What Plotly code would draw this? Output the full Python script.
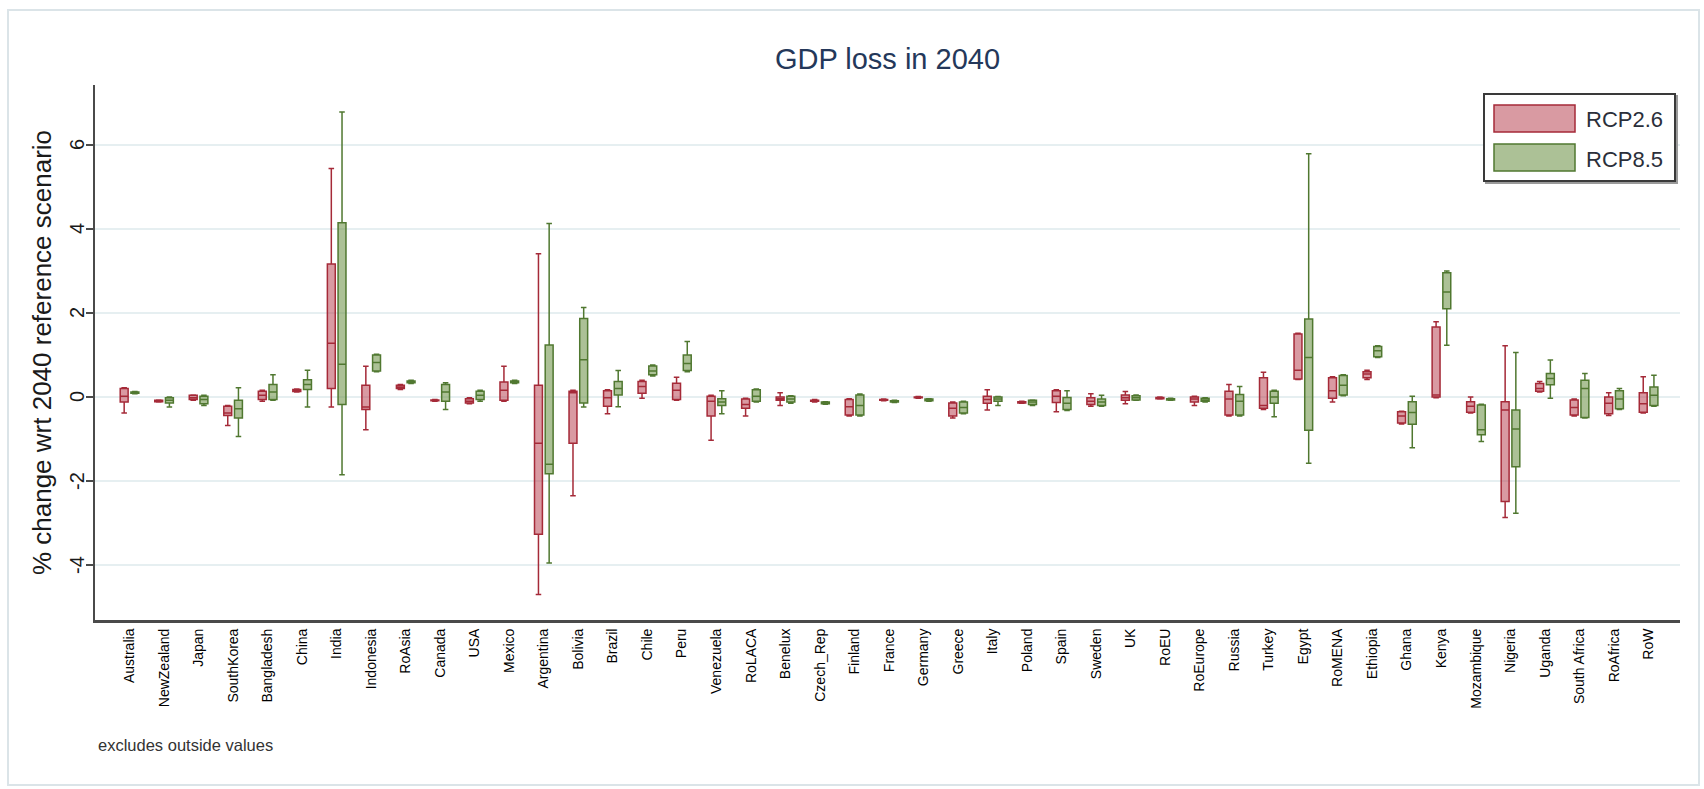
import plotly.graph_objects as go

# Regions on the x axis
countries = ["Australia", "NewZealand", "Japan", "SouthKorea", "Bangladesh", "China", "India",
             "Indonesia", "RoAsia", "Canada", "USA", "Mexico", "Argentina", "Bolivia", "Brazil",
             "Chile", "Peru", "Venezuela", "RoLACA", "Benelux", "Czech_Rep", "Finland", "France",
             "Germany", "Greece", "Italy", "Poland", "Spain", "Sweden", "UK", "RoEU", "RoEurope",
             "Russia", "Turkey", "Egypt", "RoMENA", "Ethiopia", "Ghana", "Kenya", "Mozambique",
             "Nigeria", "Uganda", "South Africa", "RoAfrica", "RoW"]

# RCP2.6 box statistics (% change wrt 2040 reference scenario)
rcp26_lower = [-0.38, -0.12, -0.08, -0.68, -0.10, 0.12, -0.24, -0.78, 0.18, -0.10, -0.16, -0.10,
               -4.70, -2.35, -0.40, -0.03, -0.08, -1.03, -0.45, -0.20, -0.12, -0.45, -0.09, -0.03,
               -0.50, -0.31, -0.15, -0.35, -0.22, -0.16, -0.05, -0.20, -0.45, -0.30, 0.42, -0.12,
               0.42, -0.64, -0.02, -0.38, -2.87, 0.12, -0.45, -0.44, -0.38]
rcp26_q1 = [-0.12, -0.11, -0.06, -0.44, -0.06, 0.13, 0.20, -0.30, 0.20, -0.09, -0.14, -0.08,
            -3.27, -1.10, -0.22, 0.09, -0.06, -0.45, -0.27, -0.08, -0.10, -0.43, -0.08, -0.02,
            -0.45, -0.15, -0.14, -0.13, -0.18, -0.08, -0.04, -0.12, -0.43, -0.27, 0.43, -0.03,
            0.46, -0.62, 0.00, -0.36, -2.49, 0.14, -0.43, -0.40, -0.36]
rcp26_median = [0.02, -0.10, -0.02, -0.38, 0.04, 0.15, 1.28, -0.24, 0.24, -0.08, -0.10, 0.16,
                -1.10, 0.10, -0.02, 0.25, 0.16, -0.10, -0.18, -0.04, -0.09, -0.23, -0.07, -0.01,
                -0.27, -0.06, -0.12, 0.02, -0.10, -0.02, -0.02, -0.05, -0.05, -0.20, 0.64, 0.15,
                0.55, -0.45, 0.05, -0.22, -0.31, 0.20, -0.25, -0.15, -0.16]
rcp26_q3 = [0.20, -0.08, 0.04, -0.22, 0.14, 0.18, 3.17, 0.28, 0.28, -0.07, -0.04, 0.36,
            0.28, 0.14, 0.15, 0.37, 0.33, 0.02, -0.05, 0.00, -0.08, -0.06, -0.06, 0.00,
            -0.14, 0.02, -0.11, 0.15, -0.02, 0.05, -0.01, 0.00, 0.14, 0.46, 1.50, 0.46,
            0.60, -0.35, 1.67, -0.11, -0.11, 0.32, -0.07, 0.00, 0.10]
rcp26_upper = [0.22, -0.07, 0.05, -0.20, 0.16, 0.19, 5.44, 0.73, 0.30, -0.06, -0.02, 0.73,
               3.41, 0.16, 0.17, 0.40, 0.47, 0.04, -0.03, 0.10, -0.06, -0.04, -0.05, 0.01,
               -0.12, 0.17, -0.10, 0.17, 0.08, 0.13, 0.00, 0.02, 0.30, 0.59, 1.52, 0.48,
               0.64, -0.34, 1.79, 0.00, 1.22, 0.37, -0.05, 0.10, 0.48]

# RCP8.5 box statistics
rcp85_lower = [0.08, -0.24, -0.20, -0.94, -0.08, -0.24, -1.85, 0.60, 0.32, -0.30, -0.10, 0.32,
               -3.95, -0.24, -0.23, 0.50, 0.60, -0.40, -0.12, -0.15, -0.17, -0.45, -0.13, -0.10,
               -0.40, -0.20, -0.20, -0.32, -0.22, -0.08, -0.08, -0.12, -0.45, -0.47, -1.58, 0.03,
               0.94, -1.21, 1.23, -1.06, -2.77, -0.03, -0.50, -0.30, -0.22]
rcp85_q1 = [0.09, -0.14, -0.16, -0.50, -0.06, 0.18, -0.18, 0.62, 0.34, -0.10, -0.06, 0.34,
            -1.83, -0.14, 0.05, 0.53, 0.63, -0.20, -0.10, -0.12, -0.16, -0.43, -0.12, -0.09,
            -0.38, -0.10, -0.18, -0.30, -0.20, -0.07, -0.07, -0.10, -0.43, -0.15, -0.79, 0.05,
            0.96, -0.65, 2.10, -0.90, -1.66, 0.29, -0.49, -0.28, -0.20]
rcp85_median = [0.10, -0.08, -0.06, -0.28, 0.12, 0.30, 0.78, 0.82, 0.36, 0.12, 0.04, 0.36,
                -1.60, 0.89, 0.20, 0.62, 0.80, -0.12, 0.02, -0.05, -0.14, -0.20, -0.10, -0.07,
                -0.25, -0.05, -0.12, -0.15, -0.12, -0.02, -0.05, -0.07, -0.10, 0.00, 0.94, 0.28,
                1.10, -0.37, 2.50, -0.78, -0.76, 0.44, 0.20, -0.05, 0.04]
rcp85_q3 = [0.12, -0.02, 0.02, -0.08, 0.30, 0.41, 4.15, 1.00, 0.38, 0.30, 0.14, 0.38,
            1.24, 1.87, 0.37, 0.74, 1.00, -0.04, 0.17, 0.02, -0.12, 0.05, -0.09, -0.05,
            -0.12, 0.00, -0.08, -0.01, -0.05, 0.03, -0.04, -0.03, 0.06, 0.14, 1.86, 0.51,
            1.20, -0.11, 2.96, -0.19, -0.31, 0.56, 0.40, 0.15, 0.24]
rcp85_upper = [0.13, 0.00, 0.04, 0.22, 0.53, 0.64, 6.79, 1.02, 0.40, 0.34, 0.16, 0.40,
               4.13, 2.13, 0.63, 0.76, 1.32, 0.15, 0.19, 0.03, -0.11, 0.07, -0.08, -0.04,
               -0.10, 0.01, -0.07, 0.15, 0.04, 0.05, -0.03, -0.02, 0.25, 0.16, 5.79, 0.53,
               1.22, 0.02, 3.00, -0.17, 1.06, 0.88, 0.56, 0.20, 0.52]

y_ticks = [-4, -2, 0, 2, 4, 6]

RED_LINE = "rgb(165,42,56)"
RED_FILL = "rgba(182,62,76,0.52)"
GREEN_LINE = "rgb(80,120,48)"
GREEN_FILL = "rgba(104,142,64,0.55)"

FONT = "Liberation Sans, Arial, sans-serif"

W, H = 1704, 789
PL, PR, PT, PB = 95, 1680, 85, 620   # plot area edges in pixels


def px(x):
    return (x - PL) / (PR - PL)


def py(y):
    return (PB - y) / (PB - PT)


fig = go.Figure()
fig.add_trace(go.Box(
    x=countries, q1=rcp26_q1, median=rcp26_median, q3=rcp26_q3,
    lowerfence=rcp26_lower, upperfence=rcp26_upper,
    name="RCP2.6", boxpoints=False, whiskerwidth=0.7,
    fillcolor=RED_FILL, line=dict(color=RED_LINE, width=1.5),
    marker=dict(color=RED_LINE), showlegend=False,
))
fig.add_trace(go.Box(
    x=countries, q1=rcp85_q1, median=rcp85_median, q3=rcp85_q3,
    lowerfence=rcp85_lower, upperfence=rcp85_upper,
    name="RCP8.5", boxpoints=False, whiskerwidth=0.7,
    fillcolor=GREEN_FILL, line=dict(color=GREEN_LINE, width=1.5),
    marker=dict(color=GREEN_LINE), showlegend=False,
))

shapes = [
    # outer graph frame
    dict(type="rect", xref="paper", yref="paper", layer="below",
         x0=px(8), x1=px(1699), y0=py(785), y1=py(10),
         line=dict(color="#dbe4e8", width=2), fillcolor="rgba(0,0,0,0)"),
    # legend shadow and box
    dict(type="rect", xref="paper", yref="paper",
         x0=px(1486), x1=px(1677), y0=py(183), y1=py(96),
         line=dict(color="#9a9a9a", width=2), fillcolor="#9a9a9a"),
    dict(type="rect", xref="paper", yref="paper",
         x0=px(1484), x1=px(1675), y0=py(181), y1=py(94),
         line=dict(color="#3a3a3a", width=2), fillcolor="white"),
    # legend swatches
    dict(type="rect", xref="paper", yref="paper",
         x0=px(1494), x1=px(1575), y0=py(132), y1=py(105),
         line=dict(color=RED_LINE, width=1.5), fillcolor=RED_FILL),
    dict(type="rect", xref="paper", yref="paper",
         x0=px(1494), x1=px(1575), y0=py(171), y1=py(144),
         line=dict(color=GREEN_LINE, width=1.5), fillcolor=GREEN_FILL),
]

annotations = [
    dict(text="RCP2.6", xref="paper", yref="paper", x=px(1584), y=py(119),
         xanchor="left", yanchor="middle", showarrow=False,
         font=dict(family=FONT, size=22, color="#2b2f3a")),
    dict(text="RCP8.5", xref="paper", yref="paper", x=px(1584), y=py(159),
         xanchor="left", yanchor="middle", showarrow=False,
         font=dict(family=FONT, size=22, color="#2b2f3a")),
    dict(text="excludes outside values", xref="paper", yref="paper", x=px(96), y=py(745),
         xanchor="left", yanchor="middle", showarrow=False,
         font=dict(family=FONT, size=16.5, color="#333333")),
]

# vertical y tick labels placed against the axis
for v in y_ticks:
    annotations.append(dict(
        text=str(v), xref="paper", yref="y", x=px(77), y=v, textangle=-90,
        xanchor="center", yanchor="middle", showarrow=False,
        font=dict(family=FONT, size=20, color="#1a1a1a")))

fig.update_layout(
    width=W, height=H, autosize=False,
    margin=dict(l=PL, r=W - PR, t=PT, b=H - PB, pad=0),
    paper_bgcolor="white", plot_bgcolor="white",
    boxmode="group", boxgap=0.38, boxgroupgap=0.26,
    showlegend=False,
    title=dict(text="GDP loss in 2040", x=0.5, xref="paper", y=1 - 59 / H,
               yref="container", xanchor="center", yanchor="middle",
               font=dict(family=FONT, size=29, color="#24385a")),
    xaxis=dict(type="category", range=[-1.0, 44.91], tickangle=-90,
               tickfont=dict(family=FONT, size=14, color="#000000"),
               showgrid=False, zeroline=False, showline=True,
               linecolor="#4a4a4a", linewidth=3, ticks=""),
    yaxis=dict(range=[-5.31, 7.43], tickvals=y_ticks, showticklabels=False,
               ticks="outside", ticklen=7, tickwidth=2, tickcolor="#4a4a4a",
               showline=True, linecolor="#4a4a4a", linewidth=2,
               showgrid=True, gridcolor="#e6eff1", gridwidth=1.5, zeroline=False,
               title=dict(text="% change wrt 2040 reference scenario", standoff=27,
                          font=dict(family=FONT, size=26, color="#1a1a1a"))),
    shapes=shapes,
    annotations=annotations,
)

fig.write_html("out.html")
